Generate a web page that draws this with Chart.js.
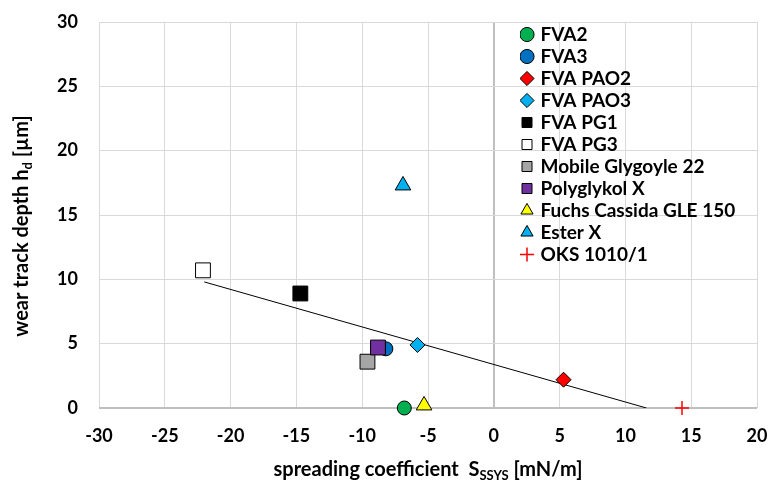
<!DOCTYPE html>
<html>
<head>
<meta charset="utf-8">
<script src="https://cdn.jsdelivr.net/npm/chart.js@4/dist/chart.umd.min.js"></script>
<style>
  html, body { margin: 0; padding: 0; background: #fff; }
  #wrap { width: 769px; height: 486px; }
</style>
</head>
<body>
<div id="wrap"><canvas id="wearChart" width="769" height="486"></canvas></div>
<script>
// oils tested
const seriesNames = ['FVA2', 'FVA3', 'FVA PAO2', 'FVA PAO3', 'FVA PG1', 'FVA PG3',
  'Mobile Glygoyle 22', 'Polyglykol X', 'Fuchs Cassida GLE 150', 'Ester X', 'OKS 1010/1'];
// spreading coefficient S_SSYS [mN/m]
const spreading = [-6.8, -8.2, 5.3, -5.8, -14.7, -22.1, -9.6, -8.8, -5.3, -6.9, 14.3];
// wear track depth h_d [µm]
const wearDepth = [0, 4.6, 2.2, 4.9, 8.9, 10.7, 3.6, 4.7, 0.2, 17.3, 0];

const fillColors = ['#00B050', '#0070C0', '#FF0000', '#00B0F0', '#000000', '#FFFFFF',
  '#A6A6A6', '#7030A0', '#FFFF00', '#00B0F0', '#FF0000'];
const markers = ['circle', 'circle', 'rectRot', 'rectRot', 'rect', 'rect',
  'rect', 'rect', 'triangle', 'triangle', 'cross'];
const markerSize = [7, 7, 7.5, 7.5, 10.5, 10.5, 10.5, 10.5, 9, 9, 7];

// linear trend line (end points)
const trendX = [-22, 11.6];
const trendY = [9.8, 0];

const xTicks = { min: -30, max: 20, step: 5 };
const yTicks = { min: 0, max: 30, step: 5 };

const fontFamily = 'Lato, "Open Sans", sans-serif';

const datasets = seriesNames.map((name, i) => ({
  label: name,
  data: [{ x: spreading[i], y: wearDepth[i] }],
  pointStyle: markers[i],
  pointRadius: markerSize[i],
  pointHoverRadius: markerSize[i],
  backgroundColor: fillColors[i],
  borderColor: markers[i] === 'cross' ? '#FF0000' : '#000000',
  borderWidth: markers[i] === 'cross' ? 1.5 : 1,
  showLine: false,
  clip: false,
  order: seriesNames.length - i
}));

datasets.push({
  label: 'trend',
  data: trendX.map((x, i) => ({ x: x, y: trendY[i] })),
  showLine: true,
  pointRadius: 0,
  borderColor: '#000000',
  borderWidth: 1,
  order: 100
});

// put the legend inside the plot, on the right
const legendPlacer = {
  id: 'legendPlacer',
  afterLayout(chart) {
    const lg = chart.legend;
    lg.left = 520;
    lg.top = 22;
    lg.right = chart.chartArea.right;
    lg.bottom = chart.chartArea.bottom;
  }
};

// axis titles with subscripts
function drawParts(ctx, parts, cx, cy, size) {
  const subSize = Math.round(size * 0.65);
  let total = 0;
  parts.forEach(p => {
    ctx.font = 'bold ' + (p.sub ? subSize : size) + 'px ' + fontFamily;
    p.w = ctx.measureText(p.t).width;
    total += p.w;
  });
  let x = cx - total / 2;
  parts.forEach(p => {
    ctx.font = 'bold ' + (p.sub ? subSize : size) + 'px ' + fontFamily;
    ctx.fillText(p.t, x, cy + (p.sub ? size * 0.28 : 0));
    x += p.w;
  });
}

const axisTitles = {
  id: 'axisTitles',
  afterDraw(chart) {
    const ctx = chart.ctx;
    const area = chart.chartArea;
    ctx.save();
    ctx.fillStyle = '#000';
    ctx.textBaseline = 'middle';
    ctx.textAlign = 'left';
    drawParts(ctx, [
      { t: 'spreading coefficient  S' },
      { t: 'SSYS', sub: true },
      { t: ' [mN/m]' }
    ], (area.left + area.right) / 2, 470, 20);
    ctx.translate(22, 226);
    ctx.rotate(-Math.PI / 2);
    drawParts(ctx, [
      { t: 'wear track depth h' },
      { t: 'd', sub: true },
      { t: ' [µm]' }
    ], 0, 0, 20);
    ctx.restore();
  }
};

const ctx = document.getElementById('wearChart').getContext('2d');
new Chart(ctx, {
  type: 'scatter',
  data: { datasets: datasets },
  plugins: [legendPlacer, axisTitles],
  options: {
    responsive: false,
    animation: false,
    layout: { padding: { left: 0, top: 22, right: 12, bottom: 0 } },
    scales: {
      x: {
        type: 'linear',
        min: xTicks.min,
        max: xTicks.max,
        afterFit: (scale) => {
          scale.height = 78;
          scale.paddingLeft = 0;
          scale.paddingRight = 0;
        },
        ticks: {
          stepSize: xTicks.step,
          padding: 17,
          color: '#000',
          font: { family: fontFamily, size: 18, weight: 'bold' }
        },
        grid: {
          drawTicks: false,
          color: (c) => c.tick && c.tick.value === 0 ? '#BFBFBF' : '#D9D9D9',
          lineWidth: (c) => c.tick && c.tick.value === 0 ? 2 : 1
        },
        border: { display: false }
      },
      y: {
        type: 'linear',
        min: yTicks.min,
        max: yTicks.max,
        afterFit: (scale) => {
          scale.width = 99;
          scale.paddingTop = 0;
          scale.paddingBottom = 0;
        },
        ticks: {
          stepSize: yTicks.step,
          padding: 21,
          color: '#000',
          font: { family: fontFamily, size: 18, weight: 'bold' }
        },
        grid: {
          drawTicks: false,
          color: (c) => c.tick && c.tick.value === 0 ? '#BFBFBF' : '#D9D9D9',
          lineWidth: (c) => c.tick && c.tick.value === 0 ? 2 : 1
        },
        border: { display: false }
      }
    },
    plugins: {
      legend: {
        position: 'chartArea',
        align: 'start',
        labels: {
          usePointStyle: true,
          boxWidth: 8,
          boxHeight: 10,
          padding: 3,
          color: '#000',
          font: { family: fontFamily, size: 19, weight: 'bold' },
          filter: (item) => item.text !== 'trend',
          sort: (a, b) => a.datasetIndex - b.datasetIndex
        }
      },
      tooltip: { enabled: false }
    }
  }
});
</script>
</body>
</html>
